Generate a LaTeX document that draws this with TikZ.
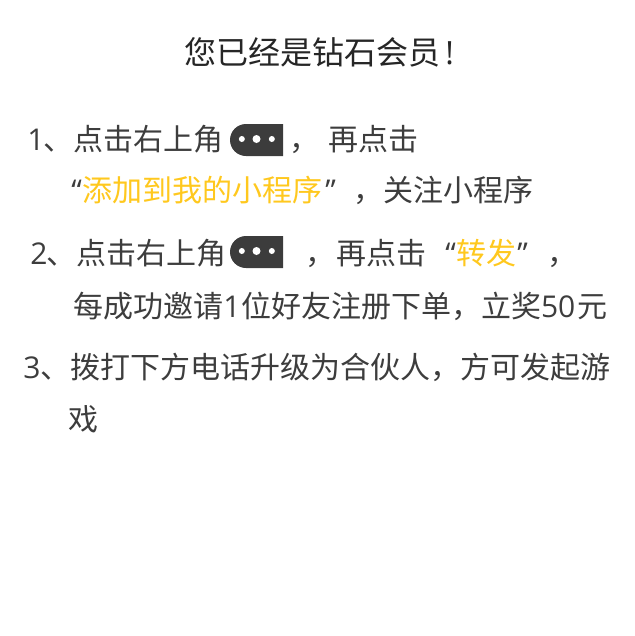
\documentclass[tikz,border=0pt]{standalone}
\usepackage{fontspec}
\usetikzlibrary{shapes.misc}
\setmainfont{Noto Sans CJK SC}[BoldFont={Noto Sans CJK SC}]
\newfontfamily\latinf{Open Sans}
\definecolor{txtgray}{HTML}{3D3D3D}
\definecolor{hiyellow}{HTML}{FFC81E}
\definecolor{pillgray}{HTML}{3C3C3C}
\tikzset{
  line/.style={anchor=base west,inner sep=0pt,text=txtgray,font=\fontsize{22.5pt}{26pt}\selectfont},
  pill/.style={fill=pillgray,rounded rectangle,rounded rectangle right arc=none,minimum width=39.75pt,minimum height=24pt,inner sep=0pt},
  pdot/.style={circle,fill=white,inner sep=0pt,minimum size=4.5pt},
  pdotmid/.style={circle,fill=white,inner sep=0pt,minimum size=6pt}
}
\begin{document}
\begin{tikzpicture}[x=0.75pt,y=-0.75pt]
\useasboundingbox (0,0) rectangle (635,636);
\node[line,text=black!85,font=\fontsize{24pt}{28pt}\selectfont] (title) at (184,64) {您已经是钻石会员};
\node[line,text=black!85,font=\fontsize{24pt}{28pt}\latinf] (bang) at (445,64) {!};
\node[line] (num1) at (27,150) {\latinf 1};
\node[line] (l1) at (43,150) {、点击右上角};
\node[line] (c1) at (289,150) {，};
\node[line] (l1b) at (328,150) {再点击};
\node[line,font=\fontsize{22.5pt}{26pt}\latinf] (q1) at (71,201) {“};
\node[line,text=hiyellow] (l2) at (82,201) {添加到我的小程序};
\node[line,font=\fontsize{22.5pt}{26pt}\latinf] (q2) at (325,201) {”};
\node[line] (c2) at (353,201) {，};
\node[line] (l2b) at (383,201) {关注小程序};
\node[line] (num2) at (30,264) {\latinf 2};
\node[line] (l3) at (46,264) {、点击右上角};
\node[line] (c3) at (305,264) {，};
\node[line] (l3b) at (336,264) {再点击};
\node[line,font=\fontsize{22.5pt}{26pt}\latinf] (q3) at (445,264) {“};
\node[line,text=hiyellow] (l3c) at (456,264) {转发};
\node[line,font=\fontsize{22.5pt}{26pt}\latinf] (q4) at (517,264) {”};
\node[line] (c4) at (547,264) {，};
\node[line] (l4) at (73,317) {每成功邀请{\latinf 1}\hspace{0.5pt}位好友注册下单，立奖{\latinf 50}\hspace{1.5pt}元};
\node[line] (l5) at (23,378) {{\latinf 3}、拨打下方电话升级为合伙人，方可发起游};
\node[line] (l6) at (68,430) {戏};
\node[pill] (pill1) at (256.5,140) {};
\node[pill] (pill2) at (256.5,252) {};
\foreach \p in {pill1,pill2}{
  \node[pdot] at ([xshift=-11pt,yshift=0.75pt]\p.center) {};
  \node[pdotmid] at ([yshift=0.75pt]\p.center) {};
  \node[pdot] at ([xshift=11.5pt,yshift=0.75pt]\p.center) {};
}
\end{tikzpicture}
\end{document}
